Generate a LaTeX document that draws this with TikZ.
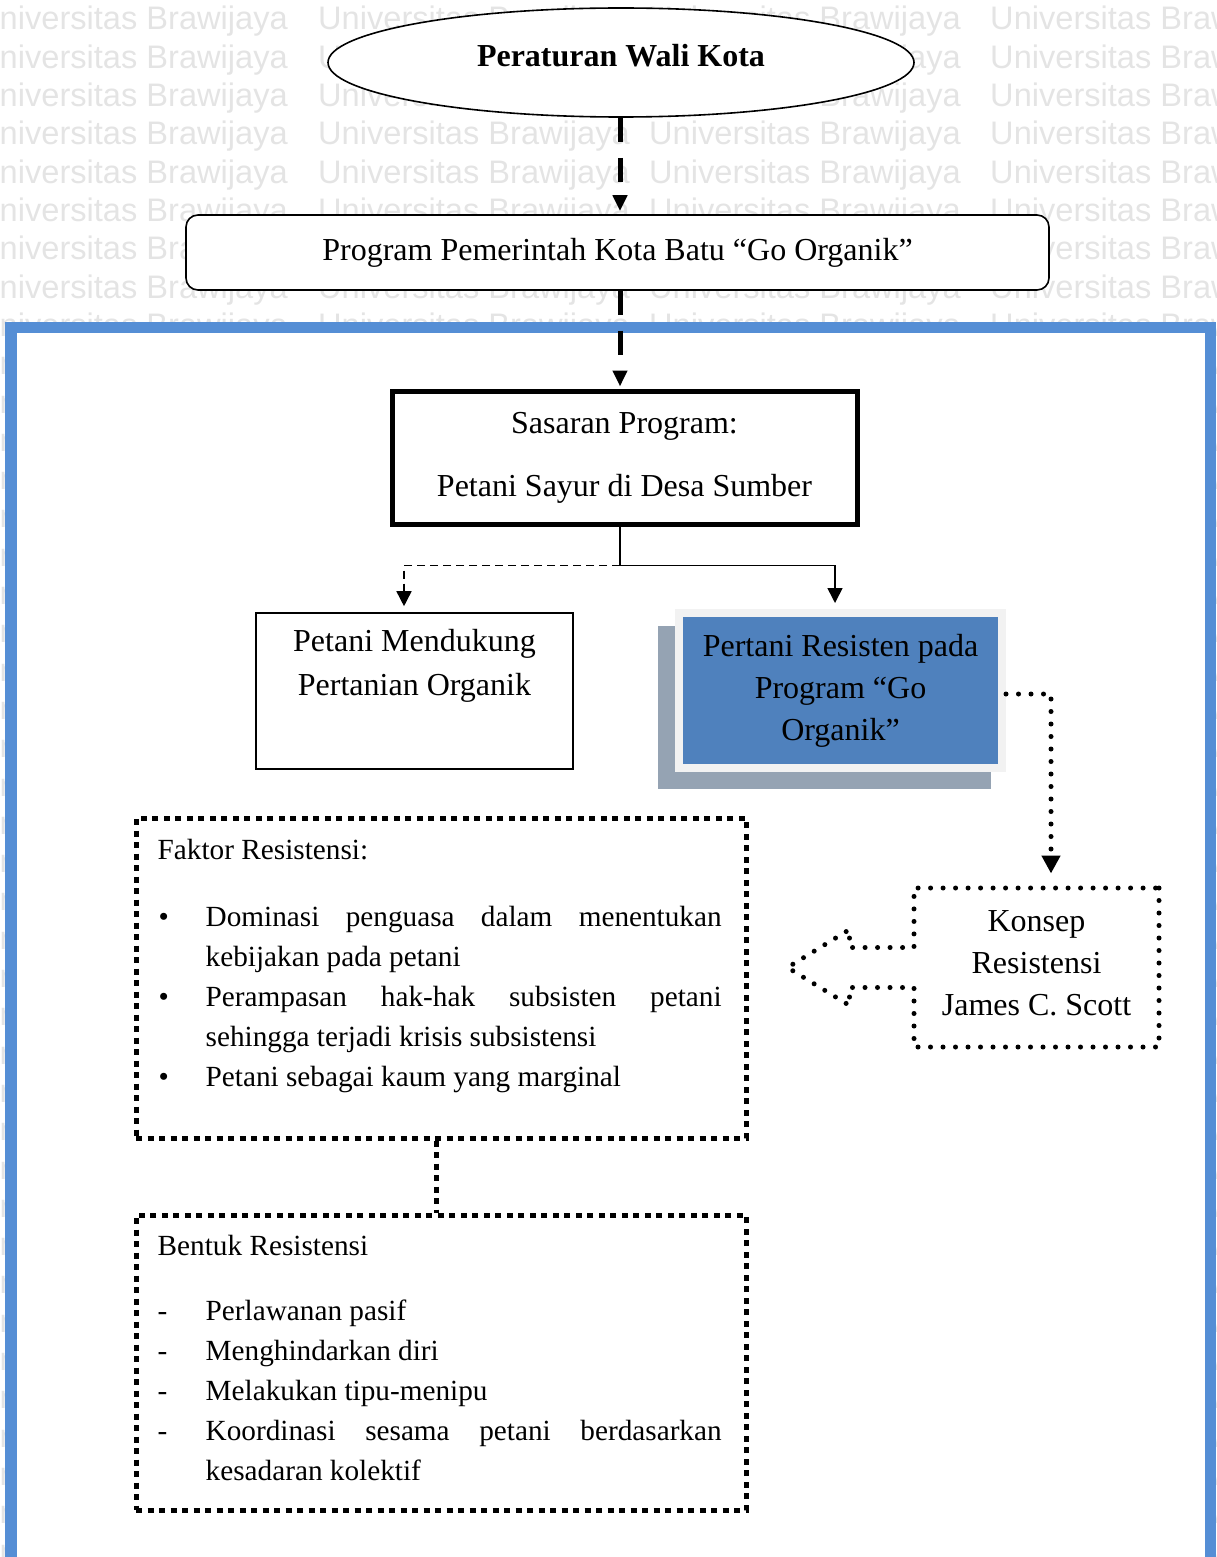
\documentclass[tikz,border=0pt]{standalone}
\usepackage{fontspec}
\setmainfont{Liberation Serif}
\newfontfamily\wmfont{Liberation Sans}
\usetikzlibrary{shapes.geometric,shapes.arrows,calc,positioning,arrows.meta}

\definecolor{frameblue}{RGB}{85,142,213}
\definecolor{boxblue}{RGB}{79,129,189}
\definecolor{boxrim}{RGB}{242,242,242}
\definecolor{boxshadow}{RGB}{149,163,179}
\definecolor{wmgray}{RGB}{228,228,228}

\hyphenpenalty=10000
\exhyphenpenalty=10000
\newcommand{\markitem}[1]{\par\noindent\hangindent=48pt\hangafter=1\makebox[48pt][l]{#1}}

\begin{document}
\begin{tikzpicture}[x=1pt,y=-1pt,
  every node/.style={font=\fontsize{32}{42}\selectfont, inner sep=0pt},
  wm/.style={font=\wmfont\fontsize{32.6}{38}\selectfont, text=wmgray, anchor=base west},
  thickdash/.style={line width=5pt, dash pattern=on 24pt off 16pt, -{Triangle[length=16pt,width=14pt]}},
  thinarrow/.style={line width=1.6pt, -{Triangle[length=15pt,width=15pt]}},
  dotline/.style={line width=5pt, line cap=round, dash pattern=on 0pt off 12.5pt},
  squaredot/.style={line width=5pt, dash pattern=on 6pt off 5.5pt},
  listtext/.style={font=\fontsize{29.25}{40}\selectfont, text width=564pt, align=justify, anchor=north west}
]
\useasboundingbox (0,0) rectangle (1216,1557);

%Watermark
\foreach \row in {0,...,40}{
  \foreach \col/\xpos in {1/-24, 2/318, 3/649, 4/990}{
    \node[wm] (wm-\row-\col) at (\xpos,{30+38.3*\row}) {Universitas Brawijaya};
  }
}

%Blue frame
\draw[frameblue, line width=11.5pt, fill=white] (11,327.5) rectangle (1210.5,1580);

%Top of the chart
\node[draw, ellipse, line width=1.6pt, fill=white, minimum width=586pt, minimum height=109pt,
  text depth=15pt, font=\bfseries\fontsize{32}{42}\selectfont] (wali) at (621,62.5) {Peraturan Wali Kota};
\node[draw, rounded corners=12pt, line width=1.6pt, fill=white, minimum width=863pt,
  minimum height=75pt] (program) at (617.5,252.5) {Program Pemerintah Kota Batu “Go Organik”};
\node[draw, line width=5pt, fill=white, minimum width=465pt, minimum height=133pt,
  align=center] (sasaran) at (624.5,458) {Sasaran Program:\\[21pt]Petani Sayur di Desa Sumber};

%Two groups of farmers
\node[draw, line width=1.6pt, minimum width=317pt, minimum height=156pt, align=center,
  font=\fontsize{32}{44}\selectfont] (mendukung) at (414.5,691) {Petani Mendukung\\Pertanian Organik\\\strut};
\fill[boxshadow] (658,626) rectangle (991,789);
\node[draw=boxrim, line width=8pt, fill=boxblue, minimum width=323pt, minimum height=155pt,
  align=center] (resisten) at (840.5,690.5) {Pertani Resisten pada\\Program “Go\\Organik”};

%Concept
\node[draw, dotline, shape=arrow box, arrow box arrows={west:124pt}, arrow box shaft width=40pt,
  arrow box head extend=18pt, arrow box tip angle=63, minimum width=245pt, minimum height=159pt,
  align=center] (konsep) at (1036.5,967.5) {Konsep\\Resistensi\\James C. Scott\rule[-8pt]{0pt}{8pt}};

%Factors and forms
\node[draw, squaredot, minimum width=610pt, minimum height=320pt] (faktor) at (441,978) {};
\node[listtext] (faktortext) at ([shift={(24,15.5)}]faktor.north west) {\strut Faktor Resistensi:\par\vspace{27pt}
  \markitem{\hspace{1pt}\textbullet}Dominasi penguasa dalam menentukan\linebreak kebijakan pada petani
  \markitem{\hspace{1pt}\textbullet}Perampasan hak-hak subsisten petani\linebreak sehingga terjadi krisis subsistensi
  \markitem{\hspace{1pt}\textbullet}Petani sebagai kaum yang marginal\par};
\node[draw, squaredot, minimum width=610pt, minimum height=295pt] (bentuk) at (441,1362.5) {};
\node[listtext] (bentuktext) at ([shift={(24,14.5)}]bentuk.north west) {\strut Bentuk Resistensi\par\vspace{25pt}
  \markitem{-}Perlawanan pasif
  \markitem{-}Menghindarkan diri
  \markitem{-}Melakukan tipu-menipu
  \markitem{-}Koordinasi sesama petani berdasarkan\linebreak kesadaran kolektif\par};

%Connectors
\draw[thickdash, shorten >=3pt] ([xshift=-1pt]wali.south) -- ([xshift=-1pt]wali.south |- program.north);
\draw[thickdash, shorten >=2.5pt] ([xshift=-1pt]wali.south |- program.south) -- ([xshift=-1pt]wali.south |- sasaran.north);
\draw[line width=1.6pt] ([xshift=-1pt]wali.south |- sasaran.south) -- ++(0,38.5) coordinate (split);
\draw[thinarrow, shorten >=6pt] (split) -| ([xshift=-5.5pt]resisten.north);
\draw[thinarrow, dash pattern=on 8pt off 5pt, shorten >=6pt] (split) -| ([xshift=-10.5pt]mendukung.north);
\draw[dotline, -{Triangle[length=18pt,width=18pt]}, shorten >=12pt] ([yshift=-3.5pt]resisten.east) -| ([xshift=14.5pt]konsep.north);
\draw[squaredot] ([xshift=-5pt]faktor.south) -- ([xshift=-5pt]bentuk.north);
\end{tikzpicture}
\end{document}
